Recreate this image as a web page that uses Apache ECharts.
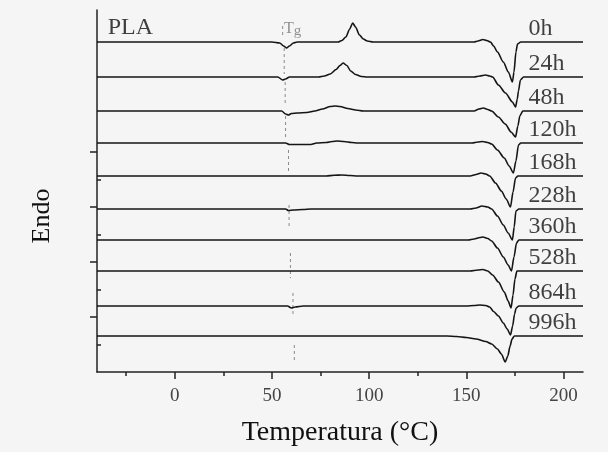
<!DOCTYPE html>
<html>
<head>
<meta charset="utf-8">
<script src="https://cdn.jsdelivr.net/npm/echarts@6/dist/echarts.min.js"></script>
<style>html,body{margin:0;padding:0;background:#f5f5f5;}#c{width:608px;height:452px;}</style>
</head>
<body>
<div id="c"></div>
<script>
// Sample names (ageing time) and the vertical offset of each curve's baseline
const hours = ['0h','24h','48h','120h','168h','228h','360h','528h','864h','996h'];
const baselines = [330, 295, 261, 229, 196, 163, 132, 101, 66, 36];

// Each curve: [temperature °C, heat-flow deflection from its baseline]
const c0h = [[-40,0],[50,0],[54,-1],[56,-4],[57.5,-6],[59,-4],[61,-1],[63,0],[84,0],[86,1.5],[88,5],[90,13],[91.5,19],[93,15],[95,7],[97,3],[99,1],[102,0],[154,0],[156,1],[158.5,2.5],[160.5,1.5],[162.4,0],[164,-4],[166,-10],[169,-20],[171.6,-30],[173.7,-40],[174.5,-30],[175.5,-10],[176.3,-2],[178,0],[210,0]];
const c24h = [[-40,0],[53,0],[55.5,-3],[57,-2],[59,0],[74,0],[77,1],[80,3],[83,7.5],[85,11.5],[86.6,14],[88.5,11.5],[90.5,6],[93,2.5],[96,0.5],[99,0],[154,0],[157,1],[159.8,2],[162,1],[163.5,0],[166.5,-8],[170.1,-16],[173.7,-25],[175.3,-30],[176.2,-22],[176.8,-14],[177.8,-3],[179.4,0],[210,0]];
const c48h = [[-40,0],[55,0],[57,-3],[58.5,-4],[60,-2.5],[63,-2],[68,-1.5],[72,0],[76,2],[80,4.5],[82.5,5],[85,4.5],[89,2.5],[93,1],[97,0],[154,0],[156.5,2],[158.8,3],[161,1.5],[163,0],[166.5,-6],[170,-13],[173,-21],[175.3,-26],[176.5,-15],[177.5,-5],[179,0],[210,0]];
const c120h = [[-40,0],[57,0],[59,-1.5],[70,-1.5],[73,0],[78,0.5],[81,1.5],[83.5,2],[87,1.5],[91,0.5],[94,0],[153,0],[156,1],[158.3,1.5],[161,0.5],[163,-1],[166,-7],[169.5,-15],[172,-23],[174.2,-30],[175.5,-18],[176.8,-2],[178,0],[210,0]];
const c168h = [[-40,0],[78,0],[82,0.8],[86,1],[90,0.5],[94,0],[152,0],[155,1.5],[157.5,3],[160,2],[162,0],[165,-7],[168,-15],[170.5,-23],[172.7,-31],[174,-16],[175.3,-2],[176.5,0],[210,0]];
const c228h = [[-40,0],[57,0],[58.5,-1.5],[61,-1],[66,-0.5],[70,0],[152,0],[155,1],[158,3],[161,2],[163,0],[166,-7],[169,-16],[171.5,-24],[173.7,-31],[174.6,-18],[175.5,-2],[177,0],[210,0]];
const c360h = [[-40,0],[151,0],[154,1],[157,2.5],[158.5,3],[161,1.5],[163,-1],[166,-8],[169,-17],[171.5,-25],[173.2,-31],[174.5,-17],[175.8,-3],[177,0],[210,0]];
const c528h = [[-40,0],[152,0],[156,1],[158.5,1.5],[161,0],[163.5,-4],[166.5,-11],[169.5,-21],[171.5,-30],[173,-37],[174,-24],[175,-8],[176,0],[210,0]];
const c864h = [[-40,0],[58,0],[60,-2],[62,-1],[66,0],[150,0],[154,0.5],[157,1],[160,0.5],[162,-1],[164,-5.5],[166.5,-10],[169,-17],[171,-23],[172.7,-29],[173.8,-20],[174.8,-8],[175.6,-2],[177,0],[210,0]];
const c996h = [[-40,0],[140,0],[145,-0.5],[150,-1.5],[155,-3],[160,-5.5],[163,-8],[166,-13],[168,-18],[170,-26],[171.3,-20],[172.5,-10],[173.5,-3],[174.7,0],[210,0]];
const curves = [c0h, c24h, c48h, c120h, c168h, c228h, c360h, c528h, c864h, c996h];

// Tg guide segments: [temperature, top, bottom]
const tgSegments = [[55.5,346,334],[56.3,324,298],[56.8,290,268],[57,256,234],[58.5,222,200],[58.8,167,144],[59.5,119,94],[60.8,79,58],[61.5,27,10]];

// Axis ticks
const xMajorTicks = [0, 50, 100, 150, 200];
const xMinorTicks = [-25, 25, 75, 125, 175];
const yMajorTicks = [55, 110, 165, 220];
const yMinorTicks = [27.5, 82.5, 137.5, 192.5];

const SERIF = '"Liberation Serif", "DejaVu Serif", serif';
const labelX = 182;

const series = [];
curves.forEach((c, i) => {
  series.push({
    type: 'line', name: hours[i], xAxisIndex: 0, yAxisIndex: 0,
    data: c.map(p => [p[0], p[1] + baselines[i]]),
    showSymbol: false, symbol: 'none', smooth: 0.25, smoothMonotone: 'x',
    lineStyle: { color: '#151515', width: 1.6 }, z: 3, silent: true
  });
});
tgSegments.forEach(s => {
  series.push({
    type: 'line', xAxisIndex: 0, yAxisIndex: 0,
    data: [[s[0], s[1]], [s[0], s[2]]],
    showSymbol: false, symbol: 'none',
    lineStyle: { color: '#8a8a8a', width: 1, type: [3, 3] }, z: 2, silent: true
  });
});
series.push({
  type: 'scatter', xAxisIndex: 0, yAxisIndex: 0, symbolSize: 0, silent: true, clip: false,
  data: hours.map((h, i) => [labelX, baselines[i], h]),
  label: { show: true, position: 'right', distance: 0, offset: [0, -13],
    formatter: p => p.data[2], fontFamily: SERIF, fontSize: 24, color: '#111' }
});
series.push({
  type: 'scatter', xAxisIndex: 0, yAxisIndex: 0, symbolSize: 0, silent: true, clip: false,
  data: [[-34.5, 344.5, 'PLA']],
  label: { show: true, position: 'right', distance: 0,
    formatter: p => p.data[2], fontFamily: SERIF, fontSize: 24, color: '#111' }
});
series.push({
  type: 'scatter', xAxisIndex: 0, yAxisIndex: 0, symbolSize: 0, silent: true, clip: false,
  data: [[56.2, 343, 'Tg']],
  label: { show: true, position: 'right', distance: 0,
    formatter: '{t|T}{g|g}',
    rich: { t: { fontFamily: SERIF, fontSize: 16, color: '#777' },
            g: { fontFamily: SERIF, fontSize: 15, color: '#777', padding: [4, 0, 0, 0] } } }
});

const chart = echarts.init(document.getElementById('c'), null, { renderer: 'canvas' });
chart.setOption({
  backgroundColor: '#f5f5f5',
  animation: false,
  grid: { left: 97, right: 25, top: 10, bottom: 80 },
  xAxis: [{
    type: 'value', min: -40, max: 210, position: 'bottom',
    name: 'Temperatura (°C)', nameLocation: 'middle', nameGap: 47,
    nameTextStyle: { fontFamily: SERIF, fontSize: 28, color: '#111' },
    axisLine: { onZero: false, lineStyle: { color: '#222', width: 1.5 } },
    axisTick: { customValues: xMajorTicks, length: 7, lineStyle: { color: '#222', width: 1.5 } },
    axisLabel: { customValues: xMajorTicks, margin: 15, fontFamily: SERIF, fontSize: 19, color: '#444' },
    splitLine: { show: false }
  }, {
    type: 'value', min: -40, max: 210, position: 'bottom', offset: 0,
    axisLine: { show: false, onZero: false },
    axisTick: { customValues: xMinorTicks, length: 4, lineStyle: { color: '#222', width: 1.5 } },
    axisLabel: { show: false },
    splitLine: { show: false }
  }],
  yAxis: [{
    type: 'value', min: 0, max: 362, position: 'left',
    name: 'Endo', nameLocation: 'middle', nameGap: 42, nameRotate: 90,
    nameTextStyle: { fontFamily: SERIF, fontSize: 26, color: '#111', padding: [0, 50, 0, 0] },
    axisLine: { show: true, onZero: false, lineStyle: { color: '#222', width: 1.5 } },
    axisTick: { customValues: yMajorTicks, length: 7, lineStyle: { color: '#222', width: 1.5 } },
    axisLabel: { show: false },
    splitLine: { show: false }
  }, {
    type: 'value', min: 0, max: 362, position: 'left', offset: 0,
    axisLine: { show: false, onZero: false },
    axisTick: { customValues: yMinorTicks, inside: true, length: 4, lineStyle: { color: '#222', width: 1.5 } },
    axisLabel: { show: false },
    splitLine: { show: false }
  }],
  series: series
});
</script>
</body>
</html>
